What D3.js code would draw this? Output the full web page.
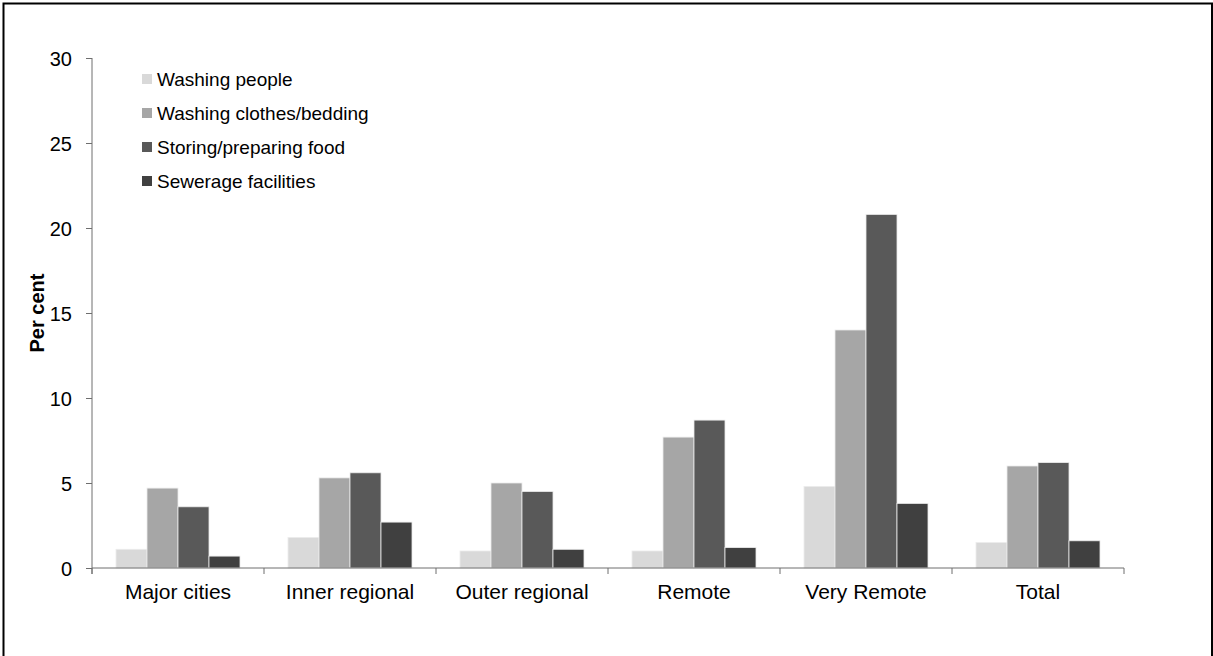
<!DOCTYPE html>
<html>
<head>
<meta charset="utf-8">
<script src="https://cdn.jsdelivr.net/npm/d3@7"></script>
<style>
  html, body { margin: 0; padding: 0; background: #fff; }
  svg { display: block; }
  text { font-family: "Liberation Sans", Arial, sans-serif; fill: #000; }
</style>
</head>
<body>
<svg id="chart" width="1213" height="656"></svg>
<script>
const categories = ["Major cities", "Inner regional", "Outer regional", "Remote", "Very Remote", "Total"];
const seriesNames = ["Washing people", "Washing clothes/bedding", "Storing/preparing food", "Sewerage facilities"];
const washingPeople   = [1.1, 1.8, 1.0, 1.0, 4.8, 1.5];
const washingClothes  = [4.7, 5.3, 5.0, 7.7, 14.0, 6.0];
const storingFood     = [3.6, 5.6, 4.5, 8.7, 20.8, 6.2];
const sewerage        = [0.7, 2.7, 1.1, 1.2, 3.8, 1.6];
const yTicks = [0, 5, 10, 15, 20, 25, 30];
const colors = ["#d9d9d9", "#a6a6a6", "#595959", "#404040"];

const seriesValues = [washingPeople, washingClothes, storingFood, sewerage];

const svg = d3.select("#chart");

// outer frame
svg.append("rect")
  .attr("x", 3.5).attr("y", 3.5)
  .attr("width", 1208.5).attr("height", 660)
  .attr("fill", "none").attr("stroke", "#000").attr("stroke-width", 2);

const x0 = d3.scaleBand().domain(categories).range([92, 1124]).paddingInner(0).paddingOuter(0);
const x1 = d3.scaleBand().domain(seriesNames).range([0, x0.bandwidth()]).paddingInner(0).paddingOuter(0.774);
const y = d3.scaleLinear().domain([0, 30]).range([568, 58]);

const axisColor = "#6e6e6e";

// bars
categories.forEach((c, ci) => {
  const g = svg.append("g").attr("transform", `translate(${x0(c)},0)`);
  seriesNames.forEach((s, si) => {
    const v = seriesValues[si][ci];
    g.append("rect")
      .attr("x", x1(s))
      .attr("y", y(v))
      .attr("width", x1.bandwidth())
      .attr("height", y(0) - y(v))
      .attr("fill", colors[si])
      .attr("stroke", "#ececec")
      .attr("stroke-width", 0.8);
  });
});

// y axis
const yAxis = svg.append("g").attr("transform", "translate(92,0)")
  .call(d3.axisLeft(y).tickValues(yTicks).tickSize(6).tickPadding(14));
yAxis.select(".domain").attr("stroke", axisColor).attr("d", "M0,58V574");
yAxis.selectAll(".tick line").attr("stroke", axisColor);
yAxis.selectAll(".tick text")
  .style("font-size", "20px").style("font-family", "Liberation Sans, Arial, sans-serif")
  .attr("fill", "#000").attr("dy", "0.36em");

// x axis
const xAxis = svg.append("g").attr("transform", "translate(0,568)")
  .call(d3.axisBottom(x0).tickSize(0).tickPadding(0));
xAxis.select(".domain").attr("stroke", axisColor).attr("d", "M92,0H1124");
xAxis.selectAll(".tick line").remove();
xAxis.selectAll(".tick text")
  .style("font-size", "21px").style("font-family", "Liberation Sans, Arial, sans-serif")
  .attr("fill", "#000").attr("y", 31).attr("dy", 0);
// category boundary ticks
const bounds = categories.map(c => x0(c)).concat([x0(categories[categories.length - 1]) + x0.bandwidth()]);
xAxis.selectAll(".bound").data(bounds).enter().append("line")
  .attr("class", "bound")
  .attr("x1", d => d).attr("x2", d => d)
  .attr("y1", 0).attr("y2", 6)
  .attr("stroke", axisColor);

// y title
svg.append("text")
  .attr("transform", "translate(44,313) rotate(-90)")
  .attr("text-anchor", "middle")
  .style("font-size", "20px").style("font-weight", "bold")
  .text("Per cent");

// legend
const legend = svg.append("g");
seriesNames.forEach((s, i) => {
  const ly = 79 + i * 34;
  legend.append("rect")
    .attr("x", 142).attr("y", ly - 5).attr("width", 10).attr("height", 10)
    .attr("fill", colors[i]);
  legend.append("text")
    .attr("x", 157).attr("y", ly).attr("dy", "0.36em")
    .style("font-size", "19px")
    .text(s);
});
</script>
</body>
</html>
